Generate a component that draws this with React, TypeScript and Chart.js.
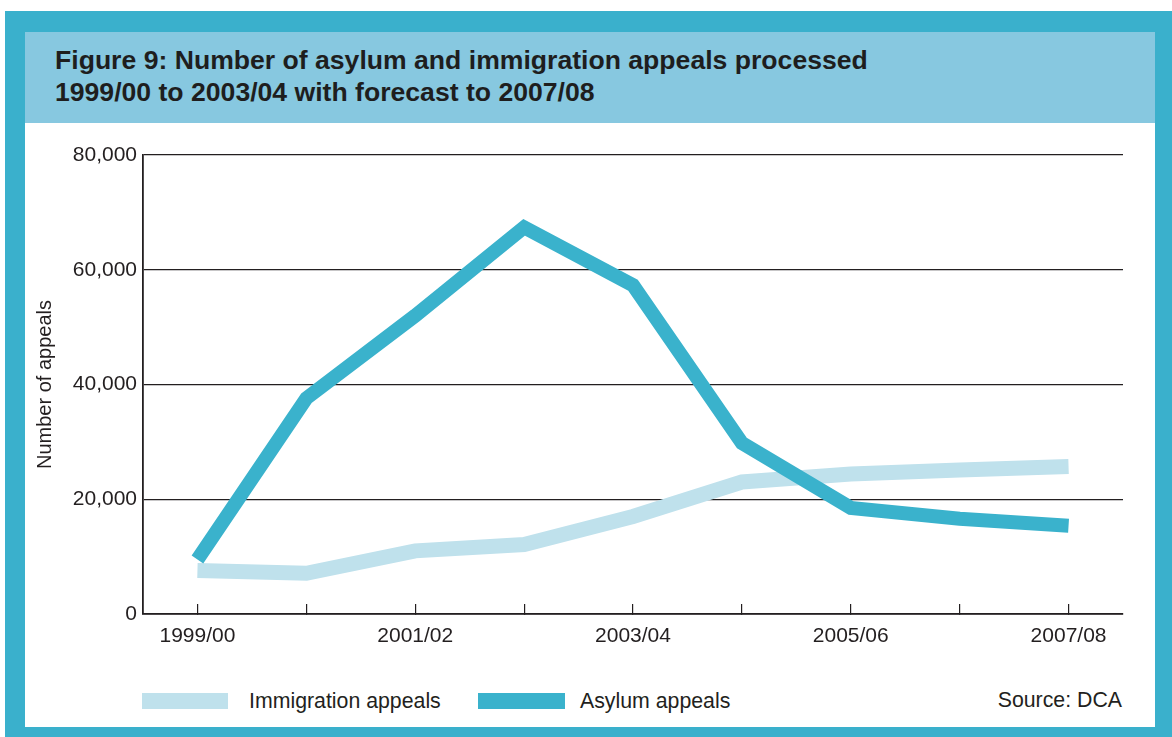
import React, { useEffect, useRef } from "react";
import { Chart, registerables } from "chart.js";

Chart.register(...registerables);

const categories = ["1999/00", "2000/01", "2001/02", "2002/03", "2003/04", "2004/05", "2005/06", "2006/07", "2007/08"];
const immigrationAppeals = [7600, 7100, 11000, 12100, 17000, 23000, 24400, 25100, 25700];
const asylumAppeals = [9500, 37600, 52000, 67400, 57300, 29800, 18500, 16600, 15400];
const yTicks = [0, 20000, 40000, 60000, 80000];
const titleLines = ["Figure 9: Number of asylum and immigration appeals processed", "1999/00 to 2003/04 with forecast to 2007/08"];
const yAxisTitle = "Number of appeals";
const legendLabels = ["Immigration appeals", "Asylum appeals"];
const sourceText = "Source: DCA";

const FRAME = "#3ab0cc";
const HEADER = "#87c8e0";
const ASYLUM = "#3ab2cc";
const IMMIGRATION = "#bfe1ec";
const INK = "#231f20";
const FONT = "'Liberation Sans', Arial, Helvetica, sans-serif";

export default function App() {
  const canvasRef = useRef<HTMLCanvasElement | null>(null);

  useEffect(() => {
    const canvas = canvasRef.current;
    if (!canvas) return;
    const chart = new Chart(canvas, {
      type: "line",
      data: {
        labels: categories,
        datasets: [
          {
            label: legendLabels[1],
            data: asylumAppeals,
            borderColor: ASYLUM,
            backgroundColor: ASYLUM,
            borderWidth: 14,
            pointRadius: 0,
            tension: 0,
            borderCapStyle: "butt",
            borderJoinStyle: "miter",
            order: 0,
          },
          {
            label: legendLabels[0],
            data: immigrationAppeals,
            borderColor: IMMIGRATION,
            backgroundColor: IMMIGRATION,
            borderWidth: 15,
            pointRadius: 0,
            tension: 0,
            borderCapStyle: "butt",
            borderJoinStyle: "miter",
            order: 1,
          },
        ],
      },
      options: {
        animation: false,
        responsive: false,
        maintainAspectRatio: false,
        layout: { padding: { top: 32, right: 32, left: 0, bottom: 0 } },
        plugins: {
          legend: { display: false },
          tooltip: { enabled: false },
        },
        scales: {
          x: {
            type: "category",
            offset: true,
            grid: {
              display: true,
              offset: false,
              drawOnChartArea: false,
              drawTicks: true,
              tickLength: -10,
              color: INK,
              lineWidth: 1.2,
            },
            border: { display: true, color: INK, width: 1.8 },
            ticks: {
              autoSkip: false,
              maxRotation: 0,
              padding: 20,
              color: INK,
              font: { family: FONT, size: 21 },
              callback: (_v: any, i: number) => (i % 2 === 0 ? categories[i] : ""),
            },
            afterFit: (scale: any) => {
              scale.height = 69;
            },
          },
          y: {
            min: yTicks[0],
            max: yTicks[yTicks.length - 1],
            afterBuildTicks: (scale: any) => {
              scale.ticks = yTicks.map((v) => ({ value: v }));
            },
            grid: {
              display: true,
              drawTicks: false,
              color: INK,
              lineWidth: 1.2,
            },
            border: { display: true, color: INK, width: 1.8 },
            ticks: {
              padding: 6,
              color: INK,
              font: { family: FONT, size: 21 },
              callback: (v: any) => Number(v).toLocaleString("en-US"),
            },
            title: {
              display: true,
              text: yAxisTitle,
              color: INK,
              font: { family: FONT, size: 20 },
              padding: { top: 8, bottom: 0 },
            },
            afterFit: (scale: any) => {
              scale.width = 118;
            },
          },
        },
      },
    });
    return () => chart.destroy();
  }, []);

  return (
    <div style={{ position: "fixed", left: 0, top: 0, width: 1172, height: 737, background: "#fff", fontFamily: FONT, overflow: "hidden" }}>
      <div style={{ position: "absolute", left: 5, top: 11, width: 1167, height: 726, background: FRAME }} />
      <div style={{ position: "absolute", left: 25, top: 32, width: 1130, height: 91, background: HEADER }} />
      <div style={{ position: "absolute", left: 25, top: 123, width: 1130, height: 604, background: "#fff" }} />
      <div
        style={{
          position: "absolute",
          left: 55,
          top: 44,
          fontSize: 26.6,
          lineHeight: "32px",
          fontWeight: "bold",
          color: "#1e1e1e",
          whiteSpace: "nowrap",
        }}
      >
        {titleLines.map((t, i) => (
          <div key={i}>{t}</div>
        ))}
      </div>
      <canvas
        ref={canvasRef}
        width={1130}
        height={560}
        style={{ position: "absolute", left: 25, top: 123, width: 1130, height: 560 }}
      />
      <div style={{ position: "absolute", left: 142, top: 693, width: 86, height: 16, background: IMMIGRATION }} />
      <div style={{ position: "absolute", left: 249, top: 688, fontSize: 21.3, lineHeight: "26px", color: INK, whiteSpace: "nowrap" }}>
        {legendLabels[0]}
      </div>
      <div style={{ position: "absolute", left: 478, top: 693, width: 87, height: 16, background: ASYLUM }} />
      <div style={{ position: "absolute", left: 580, top: 688, fontSize: 21.3, lineHeight: "26px", color: INK, whiteSpace: "nowrap" }}>
        {legendLabels[1]}
      </div>
      <div style={{ position: "absolute", right: 1172 - 1122, top: 687, fontSize: 21.3, lineHeight: "26px", color: INK, whiteSpace: "nowrap" }}>
        {sourceText}
      </div>
    </div>
  );
}
